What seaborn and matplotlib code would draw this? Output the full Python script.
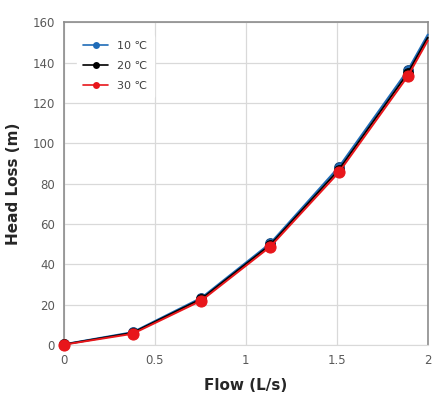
import pandas as pd
import matplotlib
matplotlib.use('Agg')
import matplotlib.pyplot as plt
import seaborn as sns

# ── data ─────────────────────────────────────────────────────────
flow = [0, 0.378, 0.756, 1.134, 1.512, 1.89, 2.0]
h10 = [0.3, 6.3, 23.4, 50.4, 88.4, 136.3, 154.0]
h20 = [0.2, 6.0, 22.8, 49.6, 87.0, 134.8, 152.5]
h30 = [0.1, 5.5, 22.0, 48.7, 85.7, 133.3, 151.0]
labels = ['10 ℃', '20 ℃', '30 ℃']
colors = ['#1f6cb8', '#000000', '#e8161b']

df = pd.concat([
    pd.DataFrame({'flow': flow, 'head': h, 'temp': lab})
    for h, lab in zip([h10, h20, h30], labels)
], ignore_index=True)

sns.set_style('whitegrid')
plt.rcParams['font.family'] = ['DejaVu Sans']

fig = plt.figure(figsize=(4.41, 4.01), dpi=100)
ax = fig.add_axes([0.145, 0.140, 0.825, 0.804])

sizes = {'10 ℃': 7, '20 ℃': 7, '30 ℃': 8}
for lab, col in zip(labels, colors):
    sub = df[df['temp'] == lab]
    sns.lineplot(data=sub, x='flow', y='head', color=col, label=lab,
                 marker='o', markersize=sizes[lab], markevery=list(range(6)),
                 markeredgecolor=col if lab != '10 ℃' else '#164a80',
                 linewidth=1.4, clip_on=False, zorder=3, ax=ax)

ax.set_xlim(0, 2)
ax.set_ylim(0, 160)
ax.set_xticks([0, 0.5, 1, 1.5, 2])
ax.set_xticklabels(['0', '0.5', '1', '1.5', '2'])
ax.set_yticks(range(0, 161, 20))
ax.grid(color='#d9d9d9', linewidth=0.9)
ax.tick_params(colors='#595959', labelsize=8.5, length=3, color='#d9d9d9')

for side in ['left', 'right', 'top']:
    ax.spines[side].set_color('#8c8c8c')
    ax.spines[side].set_linewidth(1.2)
ax.spines['bottom'].set_color('#d9d9d9')

ax.set_xlabel('Flow (L/s)', fontsize=11, fontweight='bold', labelpad=8)
ax.set_ylabel('Head Loss (m)', fontsize=11, fontweight='bold', labelpad=8)

# legend: markers smaller, no frame border
handles, labs = ax.get_legend_handles_labels()
leg = ax.legend(handles, labs, loc='upper left', bbox_to_anchor=(0.02, 0.98),
                frameon=True, fontsize=8, labelcolor='#404040',
                handlelength=2.2, labelspacing=0.9, borderpad=0.6)
leg.get_frame().set_edgecolor('white')
leg.get_frame().set_alpha(1)
for h in leg.legend_handles:
    h.set_markersize(5)
    h.set_markeredgewidth(0)
    h.set_linewidth(1.2)

fig.savefig('out.png', dpi=100)
